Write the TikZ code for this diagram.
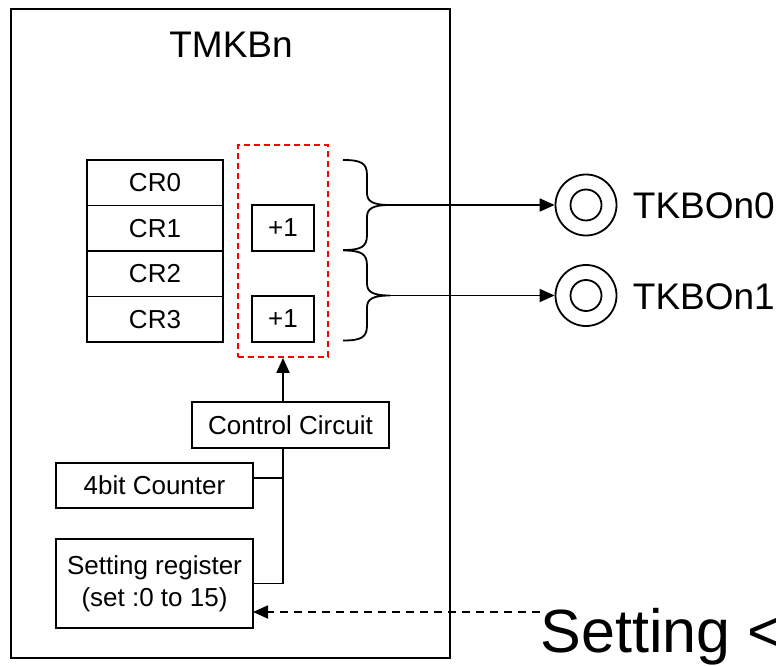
\documentclass[tikz,border=0pt]{standalone}
\usepackage{fontspec}
\setmainfont{Liberation Sans}
\usetikzlibrary{arrows.meta,positioning}

\begin{document}
\begin{tikzpicture}[x=1pt,y=-1pt,line width=1.8pt,>={Triangle[length=15pt,width=13pt]},
 bx/.style={draw,rectangle,inner sep=0pt,outer sep=0pt,font=\fontsize{26}{32}\selectfont},
 cr/.style={bx,minimum width=136pt,minimum height=45.5pt},
 inc/.style={bx,minimum width=62pt,minimum height=46pt},
 wide/.style={bx,minimum width=197pt,minimum height=45pt},
 grp/.style={draw=red,dash pattern=on 6pt off 4pt,minimum width=90pt,minimum height=212pt,inner sep=0pt},
 ring/.style={draw,circle,inner sep=0pt},
 big/.style={font=\fontsize{37}{44}\selectfont,inner sep=0pt},
 curlybr/.pic={\draw (-47,-45) .. controls (-29,-45) and (-23,-42) .. (-23,-30) -- (-23,-12)
   .. controls (-23,-4) and (-18,0) .. (0,0) .. controls (-18,0) and (-23,4) .. (-23,12)
   -- (-23,30) .. controls (-23,42) and (-29,45) .. (-47,45);
   \coordinate (-tip) at (0,0);}]
\useasboundingbox (0,0) rectangle (776,666);
\node[draw,line width=1.9pt,minimum width=439pt,minimum height=649pt,inner sep=0pt] (tmkb) at (230.5,333.5) {};
\node[big,anchor=base] (ttl) at (231,58) {TMKBn};
\node[cr] (cr0) at (155,182.75) {CR0};
\node[cr,below=0pt of cr0] (cr1) {CR1};
\node[cr,below=0pt of cr1] (cr2) {CR2};
\node[cr,below=0pt of cr2] (cr3) {CR3};
\node[inc] (p1) at (283,228) {+1};
\node[inc] (p3) at (283,319) {+1};
\node[grp] (grp) at (283,251) {};
\pic (br0) at (390,205) {curlybr};
\pic (br1) at (390,295.5) {curlybr};
\node[ring,minimum size=61pt] (o0) at (586,205) {}; \node[ring,minimum size=31pt] (i0) at (586,205) {};
\node[ring,minimum size=61pt] (o1) at (586,295.5) {}; \node[ring,minimum size=31pt] (i1) at (586,295.5) {};
\node[big,anchor=west] (l0) at (632,206) {TKBOn0};
\node[big,anchor=west] (l1) at (632,296.5) {TKBOn1};
\draw[->] (br0-tip) -- (o0);
\draw[->] (br1-tip) -- (o1);
\node[wide,minimum height=46pt] (ctl) at (290.5,425) {Control Circuit};
\node[wide] (cnt) at (154.5,485.5) {4bit Counter};
\node[wide,minimum height=89pt,align=center] (reg) at (154.5,583.5) {Setting register\\(set :0 to 15)};
\draw[->] (grp.south |- ctl.north) -- (grp.south);
\coordinate (j0) at (283,478);
\draw (grp.south |- ctl.south) |- (reg.east);
\draw (cnt.east |- j0) -- (j0);
\node[font=\fontsize{61}{70}\selectfont,inner sep=0pt,anchor=base west] (sett) at (540,652) {Setting <};
\coordinate (ds) at (540,612);
\draw[->,dash pattern=on 8pt off 6pt] (ds) -- (reg.east |- ds);
\end{tikzpicture}
\end{document}
